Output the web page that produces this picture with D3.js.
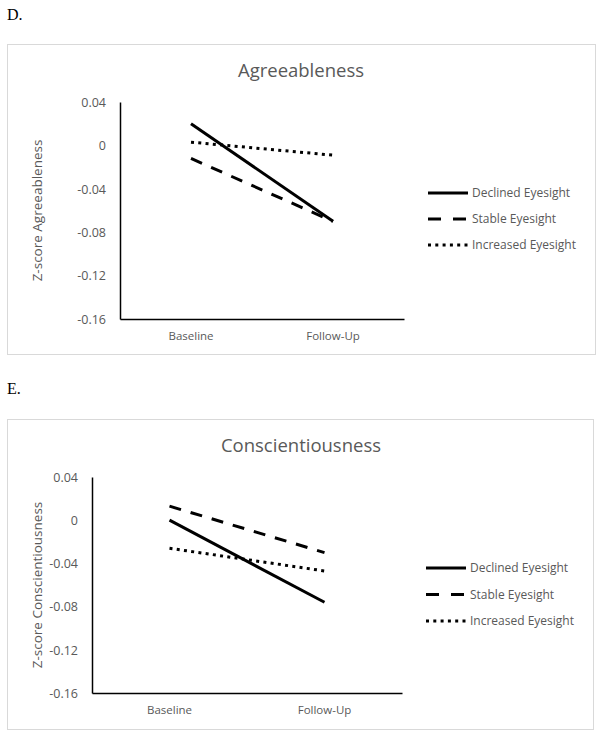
<!DOCTYPE html>
<html>
<head>
<meta charset="utf-8">
<script src="https://cdn.jsdelivr.net/npm/d3@7"></script>
<style>
  body { margin: 0; background: #fff; }
  text { font-family: "Open Sans", sans-serif; fill: #595959; }
  text.panel-label { font-family: "Liberation Serif", serif; fill: #000; font-size: 16px; }
</style>
</head>
<body>
<svg width="604" height="738"></svg>
<script>
const categories = ['Baseline', 'Follow-Up'];
const seriesNames = ['Declined Eyesight', 'Stable Eyesight', 'Increased Eyesight'];
const yTicks = [0.04, 0, -0.04, -0.08, -0.12, -0.16];

// Agreeableness (panel D)
const agreeDeclined = [0.020, -0.070];
const agreeStable = [-0.012, -0.070];
const agreeIncreased = [0.003, -0.009];

// Conscientiousness (panel E)
const conscDeclined = [0.000, -0.076];
const conscStable = [0.013, -0.030];
const conscIncreased = [-0.026, -0.047];

const dashes = [null, '12,10', '3,4.3'];
const legendDashes = [null, '13,12', '3,4.3'];

const svg = d3.select('svg');

const panels = [
    {
        label: 'D.', labelY: 20,
        box: {x: 7.5, y: 44.5, w: 588, h: 310},
        title: 'Agreeableness', titleY: 77,
        yTitle: 'Z-score Agreeableness',
        plot: {left: 120, right: 404, top: 102, bottom: 319},
        legend: {x: 428, y: 193, gap: 26},
        series: [agreeDeclined, agreeStable, agreeIncreased]
    },
    {
        label: 'E.', labelY: 394,
        box: {x: 7.5, y: 419.5, w: 586, h: 310},
        title: 'Conscientiousness', titleY: 452,
        yTitle: 'Z-score Conscientiousness',
        plot: {left: 92, right: 402, top: 477, bottom: 693},
        legend: {x: 426, y: 568, gap: 26.5},
        series: [conscDeclined, conscStable, conscIncreased]
    }
];

const render = p => {
    svg.append('text')
        .attr('class', 'panel-label')
        .attr('x', 7)
        .attr('y', p.labelY)
        .text(p.label);

    svg.append('rect')
        .attr('x', p.box.x)
        .attr('y', p.box.y)
        .attr('width', p.box.w)
        .attr('height', p.box.h)
        .attr('fill', 'none')
        .attr('stroke', '#d9d9d9')
        .attr('stroke-width', 1);

    svg.append('text')
        .attr('x', 301)
        .attr('y', p.titleY)
        .attr('text-anchor', 'middle')
        .style('font-size', '18.5px')
        .text(p.title);

    const xScale = d3.scaleBand()
        .domain(categories)
        .range([p.plot.left, p.plot.right]);

    const yScale = d3.scaleLinear()
        .domain([-0.16, 0.04])
        .range([p.plot.bottom, p.plot.top]);

    const yAxisG = svg.append('g')
        .attr('transform', 'translate(' + p.plot.left + ',0)')
        .call(d3.axisLeft(yScale).tickValues(yTicks).tickSize(0).tickPadding(14)
            .tickFormat(d => d === 0 ? '0' : d3.format('.2f')(d).replace('−', '-')));
    yAxisG.select('.domain').attr('stroke', '#000').attr('stroke-width', 1.5);
    yAxisG.selectAll('.tick text').style('font-size', '12.5px').attr('dy', '0.35em');

    const xAxisG = svg.append('g')
        .attr('transform', 'translate(0,' + p.plot.bottom + ')')
        .call(d3.axisBottom(xScale).tickSize(0).tickPadding(13));
    xAxisG.select('.domain').attr('stroke', '#000').attr('stroke-width', 1.5);
    xAxisG.selectAll('.tick text').style('font-size', '11.5px');

    svg.append('text')
        .attr('transform', 'translate(42,' + (p.plot.top + p.plot.bottom) / 2 + ') rotate(-90)')
        .attr('text-anchor', 'middle')
        .style('font-size', '13.5px')
        .text(p.yTitle);

    const line = d3.line()
        .x((d, i) => xScale(categories[i]) + xScale.bandwidth() / 2)
        .y(d => yScale(d));

    p.series.forEach((s, i) => {
        svg.append('path')
            .datum(s)
            .attr('d', line)
            .attr('fill', 'none')
            .attr('stroke', '#000')
            .attr('stroke-width', 3)
            .attr('stroke-dasharray', dashes[i]);
    });

    const legend = svg.append('g');
    seriesNames.forEach((name, i) => {
        const y = p.legend.y + i * p.legend.gap;
        legend.append('line')
            .attr('x1', p.legend.x)
            .attr('x2', p.legend.x + 40)
            .attr('y1', y)
            .attr('y2', y)
            .attr('stroke', '#000')
            .attr('stroke-width', 3)
            .attr('stroke-dasharray', legendDashes[i]);
        legend.append('text')
            .attr('x', p.legend.x + 44)
            .attr('y', y)
            .attr('dy', '0.35em')
            .style('font-size', '12px')
            .text(name);
    });
};

panels.forEach(render);
</script>
</body>
</html>
